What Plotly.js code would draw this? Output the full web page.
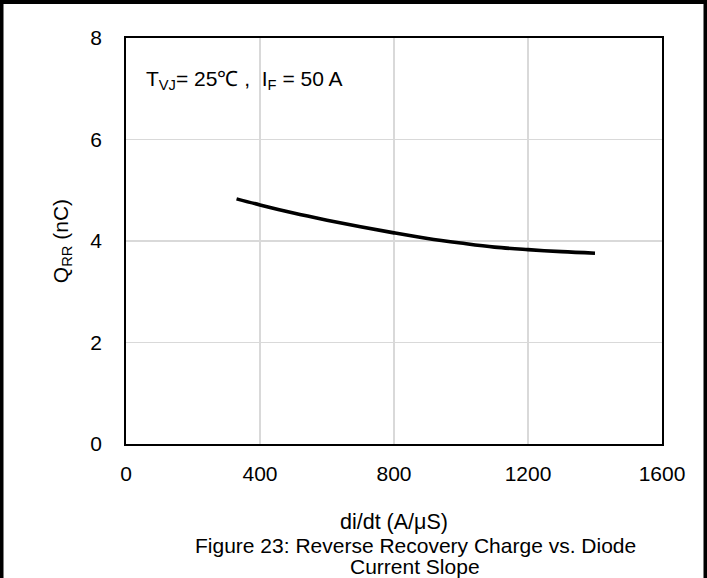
<!DOCTYPE html>
<html>
<head>
<meta charset="utf-8">
<script src="https://cdn.plot.ly/plotly-3.0.1.min.js"></script>
<style>
  html, body { margin: 0; padding: 0; background: #fff; }
  #chart { width: 707px; height: 578px; }
</style>
</head>
<body>
<div id="chart"></div>
<script>
// Reverse recovery charge vs. diode current slope (T_VJ = 25 °C, I_F = 50 A)
const diDt = [330, 400, 500, 600, 700, 800, 900, 1000, 1100, 1200, 1300, 1400];
const qrr  = [4.83, 4.71, 4.55, 4.41, 4.28, 4.16, 4.05, 3.96, 3.88, 3.83, 3.79, 3.76];

const xTicks = [0, 400, 800, 1200, 1600];
const yTicks = [0, 2, 4, 6, 8];

const captionLines = ['Figure 23: Reverse Recovery Charge vs. Diode', 'Current Slope'];

const FONT = 'Liberation Sans, Arial, sans-serif';
const FS = 21;

// page geometry (pixels)
const W = 707, H = 578;
const M = { l: 126, r: 45, t: 38, b: 134 };
const PW = W - M.l - M.r, PH = H - M.t - M.b;
const px = v => (v - M.l) / PW;        // pixel x -> paper x
const py = v => (H - M.b - v) / PH;    // pixel y -> paper y

// black frame on the left, top and right edges of the page
const frame = [
  { x0: px(0), x1: px(3.5), y0: py(H), y1: py(0) },
  { x0: px(0), x1: px(W), y0: py(4), y1: py(0) },
  { x0: px(W - 3.5), x1: px(W), y0: py(H), y1: py(0) }
].map(r => Object.assign({ type: 'rect', xref: 'paper', yref: 'paper',
  fillcolor: '#000', line: { width: 0 }, layer: 'above' }, r));

const trace = {
  x: diDt, y: qrr, type: 'scatter', mode: 'lines',
  line: { color: '#000', width: 3.6, shape: 'spline', smoothing: 1 },
  hoverinfo: 'skip'
};

const axisCommon = {
  showline: true, mirror: true, linecolor: '#000', linewidth: 1.8,
  showgrid: true, gridcolor: '#d9d9d9', gridwidth: 1.5,
  zeroline: false, ticks: '', tickmode: 'array',
  tickfont: { family: FONT, size: FS, color: '#000' }
};

// caption, one annotation per line for tight line spacing
const captionY = [545, 566];
const caption = captionLines.map((t, i) => ({
  xref: 'paper', yref: 'paper', x: px(415), y: py(captionY[i]),
  xanchor: 'center', yanchor: 'middle', showarrow: false,
  text: t, font: { family: FONT, size: 21, color: '#000' }
}));

const layout = {
  width: W, height: H,
  margin: M,
  paper_bgcolor: '#fff', plot_bgcolor: '#fff',
  showlegend: false,
  xaxis: Object.assign({}, axisCommon, {
    range: [0, 1600], tickvals: xTicks, ticktext: xTicks.map(String),
    ticklabelstandoff: 10,
    title: { text: 'di/dt (A/μS)', font: { family: FONT, size: 21.5, color: '#000' }, standoff: 30 }
  }),
  yaxis: Object.assign({}, axisCommon, {
    range: [0, 8], tickvals: yTicks, ticktext: yTicks.map(String),
    ticklabelstandoff: 18,
    title: { text: 'Q<sub>RR</sub> (nC)', font: { family: FONT, size: FS, color: '#000' }, standoff: 16 }
  }),
  annotations: [
    {
      xref: 'paper', yref: 'paper', x: px(144), y: py(80),
      xanchor: 'left', yanchor: 'middle', showarrow: false,
      text: 'T<sub>VJ</sub>= 25℃ ,  I<sub>F</sub> = 50 A',
      font: { family: FONT, size: FS, color: '#000' }
    }
  ].concat(caption),
  shapes: frame
};

Plotly.newPlot('chart', [trace], layout, { staticPlot: true, displayModeBar: false });
</script>
</body>
</html>
